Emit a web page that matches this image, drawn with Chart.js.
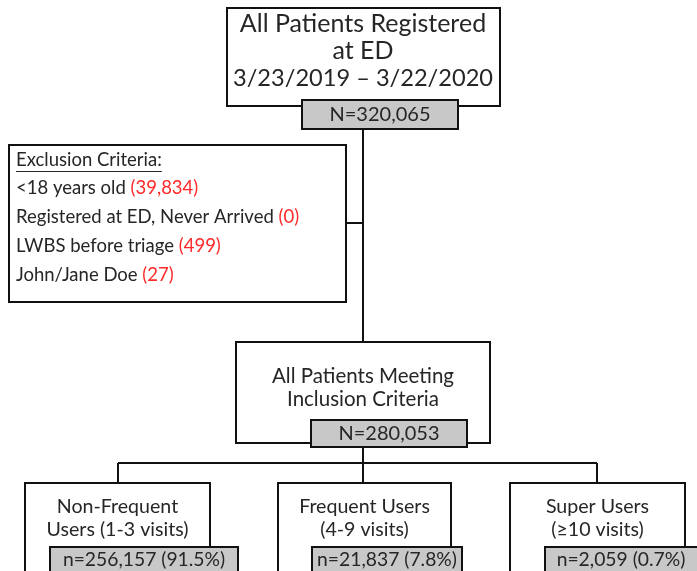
<!DOCTYPE html>
<html>
<head>
<meta charset="utf-8">
<script src="https://cdn.jsdelivr.net/npm/chart.js@4"></script>
<style>
  html, body { margin: 0; padding: 0; background: #fff; }
  #wrap { width: 697px; height: 571px; }
</style>
</head>
<body>
<div id="wrap"><canvas id="flow" width="697" height="571"></canvas></div>
<script>
// ---- data ----
const registeredTitle = ['All Patients Registered', 'at ED', '3/23/2019 \u2013 3/22/2020'];
const registeredTotal = 320065;
const exclusionLabels = ['<18 years old', 'Registered at ED, Never Arrived', 'LWBS before triage', 'John/Jane Doe'];
const exclusionCounts = [39834, 0, 499, 27];
const includedTitle = ['All Patients Meeting', 'Inclusion Criteria'];
const includedTotal = 280053;
const groupLabels = [['Non-Frequent', 'Users (1-3 visits)'], ['Frequent Users', '(4-9 visits)'], ['Super Users', '(\u226510 visits)']];
const groupCounts = [256157, 21837, 2059];
const groupPercents = [91.5, 7.8, 0.7];

// ---- layout (canvas units, y down) ----
const FONT = 'Lato, "Open Sans", sans-serif';
const INK = '#262626';
const RED = '#ff2a2a';
const GREY = '#c8c8c8';

const topBox = { x0: 227, y0: 8, x1: 500, y1: 106 };
const topN = { x0: 302, y0: 100, x1: 458, y1: 129 };
const exclBox = { x0: 9, y0: 145, x1: 346, y1: 302 };
const inclBox = { x0: 236, y0: 342, x1: 490, y1: 443 };
const inclN = { x0: 311, y0: 420, x1: 467, y1: 447 };
const groupBoxes = [
    { x0: 25, y0: 483, x1: 210, y1: 580 },
    { x0: 278, y0: 483, x1: 451, y1: 580 },
    { x0: 510, y0: 483, x1: 685, y1: 580 }
];
const groupN = [
    { x0: 50, y0: 547, x1: 238, y1: 590 },
    { x0: 312, y0: 547, x1: 462, y1: 590 },
    { x0: 545, y0: 547, x1: 705, y1: 590 }
];
const spineX = 363;
const branchY = 463;
const branchX = [118, 363, 597];

const fmt = v => v.toLocaleString('en-US');

// connector lines, one dataset per segment
const connectorSegments = [
    [{ x: spineX, y: topN.y1 }, { x: spineX, y: inclBox.y0 }],
    [{ x: exclBox.x1, y: 223 }, { x: spineX, y: 223 }],
    [{ x: spineX, y: inclN.y1 }, { x: spineX, y: groupBoxes[1].y0 }],
    [{ x: branchX[0], y: branchY }, { x: branchX[2], y: branchY }],
    [{ x: branchX[0], y: branchY }, { x: branchX[0], y: groupBoxes[0].y0 }],
    [{ x: branchX[2], y: branchY }, { x: branchX[2], y: groupBoxes[2].y0 }]
];

const boxesPlugin = {
    id: 'flowBoxes',
    afterDatasetsDraw(chart) {
        const ctx = chart.ctx;
        const sx = chart.scales.x, sy = chart.scales.y;
        const px = v => sx.getPixelForValue(v);
        const py = v => sy.getPixelForValue(v);

        function rect(b, fill) {
            const x = px(b.x0), y = py(b.y0);
            const w = px(b.x1) - x, h = py(b.y1) - y;
            ctx.save();
            ctx.fillStyle = fill;
            ctx.fillRect(x, y, w, h);
            ctx.lineWidth = 2;
            ctx.strokeStyle = '#111';
            ctx.strokeRect(x, y, w, h);
            ctx.restore();
        }
        function text(str, x, y, size, color, align) {
            ctx.save();
            ctx.font = size + 'px ' + FONT;
            ctx.fillStyle = color || INK;
            ctx.textAlign = align || 'center';
            ctx.textBaseline = 'middle';
            ctx.fillText(str, px(x), py(y));
            const w = ctx.measureText(str).width;
            ctx.restore();
            return w;
        }

        // top box
        rect(topBox, '#fff');
        const topSizes = [25, 25, 23.6];
        registeredTitle.forEach((t, i) => text(t, 363, 24 + i * 27, topSizes[i]));
        rect(topN, GREY);
        text('N=' + fmt(registeredTotal), 380, 115, 20);

        // exclusion box
        rect(exclBox, '#fff');
        const hw = text('Exclusion Criteria:', 16, 160, 18.5, INK, 'left');
        ctx.save();
        ctx.strokeStyle = INK;
        ctx.lineWidth = 1;
        ctx.beginPath();
        ctx.moveTo(px(16), py(171) + 0.5);
        ctx.lineTo(px(16) + hw, py(171) + 0.5);
        ctx.stroke();
        ctx.restore();
        exclusionLabels.forEach((t, i) => {
            const y = 188 + i * 29;
            ctx.save();
            ctx.font = '18.5px ' + FONT;
            const w = ctx.measureText(t + ' ').width;
            ctx.restore();
            text(t + ' ', 16, y, 18.5, INK, 'left');
            text('(' + fmt(exclusionCounts[i]) + ')', 16 + w, y, 18.5, RED, 'left');
        });

        // inclusion box
        rect(inclBox, '#fff');
        includedTitle.forEach((t, i) => text(t, 363, 376 + i * 23, 20.5));
        rect(inclN, GREY);
        text('N=' + fmt(includedTotal), 389, 434, 20);

        // group boxes
        groupBoxes.forEach((b, i) => {
            rect(b, '#fff');
            const cx = (b.x0 + b.x1) / 2;
            groupLabels[i].forEach((t, j) => text(t, cx, 507 + j * 23, 19.6));
            const n = groupN[i];
            rect(n, GREY);
            const ncx = i === 2 ? 621 : (n.x0 + n.x1) / 2;
            text('n=' + fmt(groupCounts[i]) + ' (' + groupPercents[i] + '%)', ncx, 560, 19.3);
        });
    }
};

new Chart(document.getElementById('flow'), {
    type: 'scatter',
    data: {
        datasets: connectorSegments.map(seg => ({
            data: seg,
            showLine: true,
            borderColor: '#111',
            borderWidth: 2,
            pointRadius: 0,
            tension: 0
        }))
    },
    options: {
        responsive: false,
        animation: false,
        layout: { padding: 0 },
        plugins: { legend: { display: false }, tooltip: { enabled: false } },
        scales: {
            x: { type: 'linear', min: 0, max: 697, display: false },
            y: { type: 'linear', min: 0, max: 571, reverse: true, display: false }
        }
    },
    plugins: [boxesPlugin]
});
</script>
</body>
</html>
